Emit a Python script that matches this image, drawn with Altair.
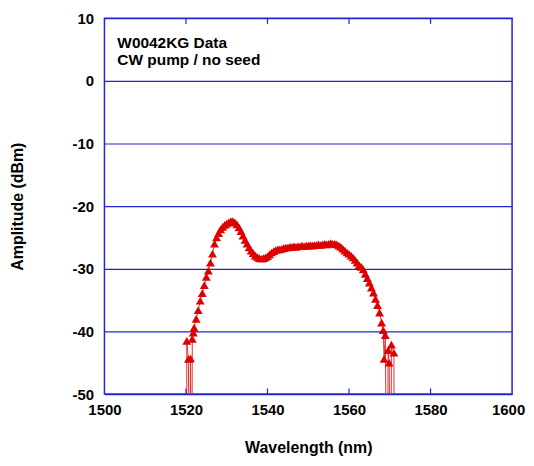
import altair as alt
import pandas as pd

# ---- data ----
wavelength = [
    1520.15, 1520.2, 1520.6, 1520.85, 1521.1, 1521.4, 1521.55, 1521.8,
    1522.0, 1522.5, 1523.0, 1523.5, 1524.0, 1524.5, 1525.0, 1525.5,
    1526.0, 1526.5, 1527.0, 1527.5, 1528.0, 1528.5, 1529.0, 1529.5,
    1530.0, 1530.5, 1531.0, 1531.5, 1532.0, 1532.5, 1533.0, 1533.5,
    1534.0, 1534.5, 1535.0, 1535.5, 1536.0, 1536.5, 1537.0, 1537.5,
    1538.0, 1538.5, 1539.0, 1539.5, 1540.0, 1540.5, 1541.0, 1541.5,
    1542.0, 1542.5, 1543.0, 1543.5, 1544.0, 1544.5, 1545.0, 1545.5,
    1546.0, 1546.5, 1547.0, 1547.5, 1548.0, 1548.5, 1549.0, 1549.5,
    1550.0, 1550.5, 1551.0, 1551.5, 1552.0, 1552.5, 1553.0, 1553.5,
    1554.0, 1554.5, 1555.0, 1555.5, 1556.0, 1556.5, 1557.0, 1557.5,
    1558.0, 1558.5, 1559.0, 1559.5, 1560.0, 1560.5, 1561.0, 1561.5,
    1562.0, 1562.5, 1563.0, 1563.5, 1564.0, 1564.5, 1565.0, 1565.5,
    1566.0, 1566.5, 1567.0, 1567.5, 1568.0, 1568.4, 1568.6, 1568.9,
    1569.35, 1569.6, 1569.85, 1570.25, 1570.4, 1571.0, 1571.2,
]
amplitude = [
    -75.0, -41.5, -44.4, -75.0, -44.3, -75.0, -41.2, -40.2,
    -39.4, -38.0, -36.6, -35.1, -33.9, -32.6, -31.3, -30.3,
    -29.0, -27.6, -26.0, -25.0, -24.3, -23.7, -23.3, -23.0,
    -22.8, -22.6, -22.4, -22.4, -22.6, -22.9, -23.4, -24.0,
    -24.7, -25.4, -26.0, -26.6, -27.1, -27.5, -27.9, -28.1,
    -28.3, -28.4, -28.3, -28.2, -28.0, -27.7, -27.4, -27.2,
    -27.0, -26.9, -26.9, -26.8, -26.7, -26.6, -26.6, -26.5,
    -26.5, -26.4, -26.5, -26.4, -26.4, -26.3, -26.4, -26.3,
    -26.3, -26.2, -26.3, -26.2, -26.2, -26.1, -26.2, -26.1,
    -26.0, -26.1, -26.0, -25.9, -26.0, -26.0, -26.1, -26.3,
    -26.5, -26.8, -27.1, -27.4, -27.6, -27.9, -28.2, -28.6,
    -29.0, -29.4, -29.7, -30.1, -30.8, -31.5, -32.2, -33.0,
    -33.8, -34.8, -35.8, -37.0, -38.6, -39.8, -44.4, -40.6,
    -75.0, -43.0, -45.0, -75.0, -42.1, -43.4, -75.0,
]
x_ticks = [1500, 1520, 1540, 1560, 1580, 1600]
y_ticks = [-50, -40, -30, -20, -10, 0, 10]
inner_tick_pos = [1520, 1540, 1560, 1580]
note_lines = ["W0042KG Data", "CW pump / no seed"]

BLUE = "#2323d6"
RED = "#dd0000"
FONT = "Liberation Sans"

df = pd.DataFrame({"wl": wavelength, "amp": amplitude,
                   "order": list(range(len(wavelength)))})

xscale = alt.Scale(domain=[1500, 1600], nice=False, zero=False)
yscale = alt.Scale(domain=[-50, 10], nice=False, zero=False)

x_axis = alt.Axis(values=x_ticks, title="Wavelength (nm)", grid=False,
                  labelExpr="'' + datum.value",
                  labelOffset={"condition": {"test": "datum.value == 1600", "value": -4},
                               "value": 0},
                  ticks=False, tickSize=0, domain=False, labelFlush=False,
                  labelPadding=9, labelFontSize=15, labelFontWeight="bold",
                  labelColor="black", labelFont=FONT,
                  titleFont=FONT, titleFontSize=16, titleFontWeight="bold",
                  titleColor="black", titleY=59, titleBaseline="alphabetic")
y_axis = alt.Axis(values=y_ticks, title="Amplitude (dBm)", grid=True,
                  labelExpr="'' + datum.value",
                  gridColor=BLUE, gridWidth=1.2, gridOpacity=1,
                  ticks=False, tickSize=0, domain=False,
                  labelPadding=11, labelFontSize=15, labelFontWeight="bold",
                  labelColor="black", labelFont=FONT,
                  titleFont=FONT, titleFontSize=16, titleFontWeight="bold",
                  titleColor="black", titleX=-82, titleY=189, titleAngle=-90,
                  titleAlign="center", titleBaseline="alphabetic")

x_enc = alt.X("wl:Q", scale=xscale, axis=x_axis)
y_enc = alt.Y("amp:Q", scale=yscale, axis=y_axis)

line = alt.Chart(df).mark_line(color="#e23030", strokeWidth=1, clip=True).encode(
    x=x_enc, y=y_enc, order="order:Q")
points = alt.Chart(df).mark_point(shape="triangle-up", filled=True, size=80,
                                  color=RED, opacity=1, clip=True).encode(
    x=x_enc, y=y_enc)

ticks_df = pd.DataFrame({
    "wl": inner_tick_pos * 2,
    "amp": [-50] * len(inner_tick_pos) + [10] * len(inner_tick_pos),
    "amp2": [-49.1] * len(inner_tick_pos) + [9.1] * len(inner_tick_pos),
})
inner_ticks = alt.Chart(ticks_df).mark_rule(color=BLUE, strokeWidth=1.2).encode(
    x=x_enc, y=y_enc, y2="amp2:Q")

note = alt.Chart(pd.DataFrame({"a": [0]})).mark_text(
    text=note_lines, align="left", baseline="alphabetic", font=FONT,
    fontSize=15.5, fontWeight="bold", color="black", lineHeight=17).encode(
    x=alt.value(13), y=alt.value(30))

chart = alt.layer(line, points, inner_ticks, note).properties(
    width=410, height=378,
    autosize=alt.AutoSizeParams(type="none"),
    padding={"left": 97, "top": 9, "right": 14, "bottom": 63},
    background="white",
).configure_view(stroke=BLUE, strokeWidth=1.5)

chart.save("out.html", embed_options={"renderer": "svg", "actions": False})
